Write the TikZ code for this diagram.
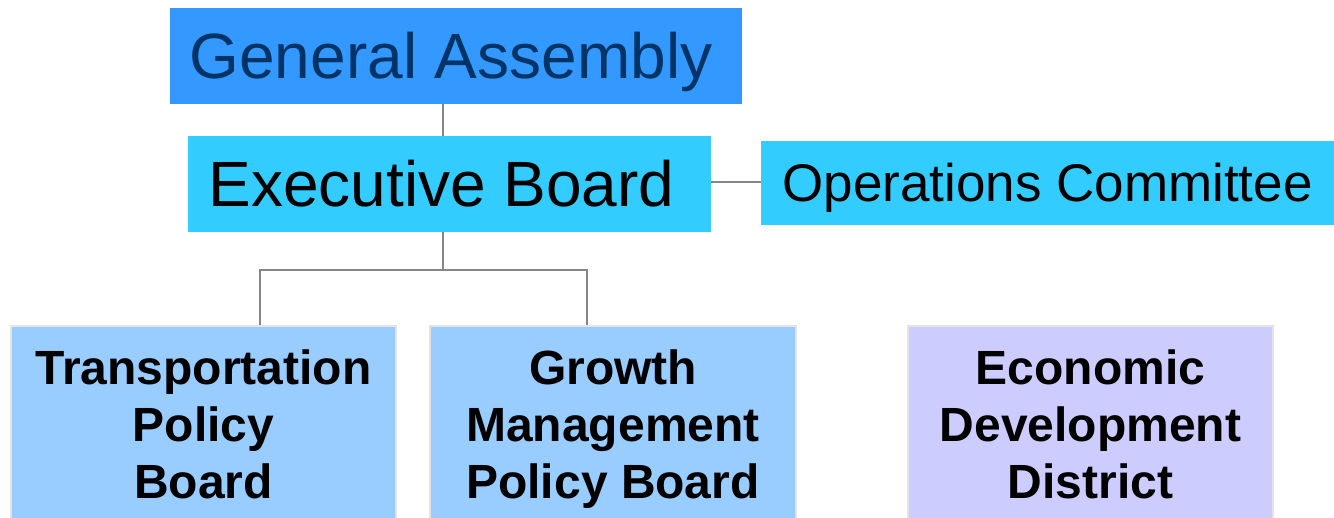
\documentclass[tikz,border=0pt]{standalone}
\usepackage{fontspec}
\setmainfont{Liberation Sans}
\begin{document}
\begin{tikzpicture}[x=0.5pt,y=-0.5pt,
  box/.style={rectangle, inner sep=0pt, anchor=center, align=center},
  conn/.style={draw=linegray, line width=1pt},
  topbox/.style={box, fill=gablue, text=navy, minimum width=286pt, minimum height=48pt,
     font=\fontsize{32}{38}\selectfont, text height=22.9pt, text depth=0pt},
  cyanbox/.style={box, fill=ebcyan, text=black},
  lowbox/.style={box, draw=bordergray, line width=1pt, text=black, minimum height=98pt,
     font=\fontsize{24}{28.5}\selectfont\bfseries}]
\definecolor{gablue}{HTML}{3399FF}
\definecolor{ebcyan}{HTML}{33CCFF}
\definecolor{navy}{HTML}{003366}
\definecolor{linegray}{HTML}{868686}
\definecolor{bordergray}{HTML}{E4E4E4}
\definecolor{tpblue}{HTML}{99CCFF}
\definecolor{edlav}{HTML}{CCCCFF}
\clip (0,0) rectangle (1334,518);
\fill[white] (0,0) rectangle (1334,518);

\node[topbox] (GA) at (456,56) {\kern-5pt General Assembly};
\node[cyanbox, minimum width=261.5pt, minimum height=48pt,
  font=\fontsize{32}{38}\selectfont, text height=22.9pt, text depth=0pt]
  (EB) at (449.5,184) {Executive Board\kern8pt};
\node[cyanbox, minimum width=286.5pt, minimum height=42pt,
  font=\fontsize{26.5}{32}\selectfont, text height=19pt, text depth=0pt]
  (OC) at (1047.5,183) {Operations Committee};

\node[lowbox, fill=tpblue, minimum width=192.5pt] (TPB) at (203.5,424)
  {Transportation\\Policy\\Board};
\node[lowbox, fill=tpblue, minimum width=183pt] (GMPB) at (613,424)
  {Growth\\Management\\\raisebox{0pt}[\height][0pt]{Policy Board}};
\node[lowbox, fill=edlav, minimum width=182.5pt] (EDD) at (1090.5,424)
  {Economic\\Development\\District};

\coordinate (j) at (443,270);
\coordinate (l) at (260,270);
\coordinate (r) at (587,270);

\draw[conn] (GA.south -| j) -- (EB.north -| j);
\draw[conn] (EB.east |- 0,182) -- (OC.west |- 0,182);
\draw[conn] (EB.south -| j) -- (j);
\draw[conn] (TPB.north -| l) -- (l) -- (r) -- (GMPB.north -| r);
\end{tikzpicture}
\end{document}
